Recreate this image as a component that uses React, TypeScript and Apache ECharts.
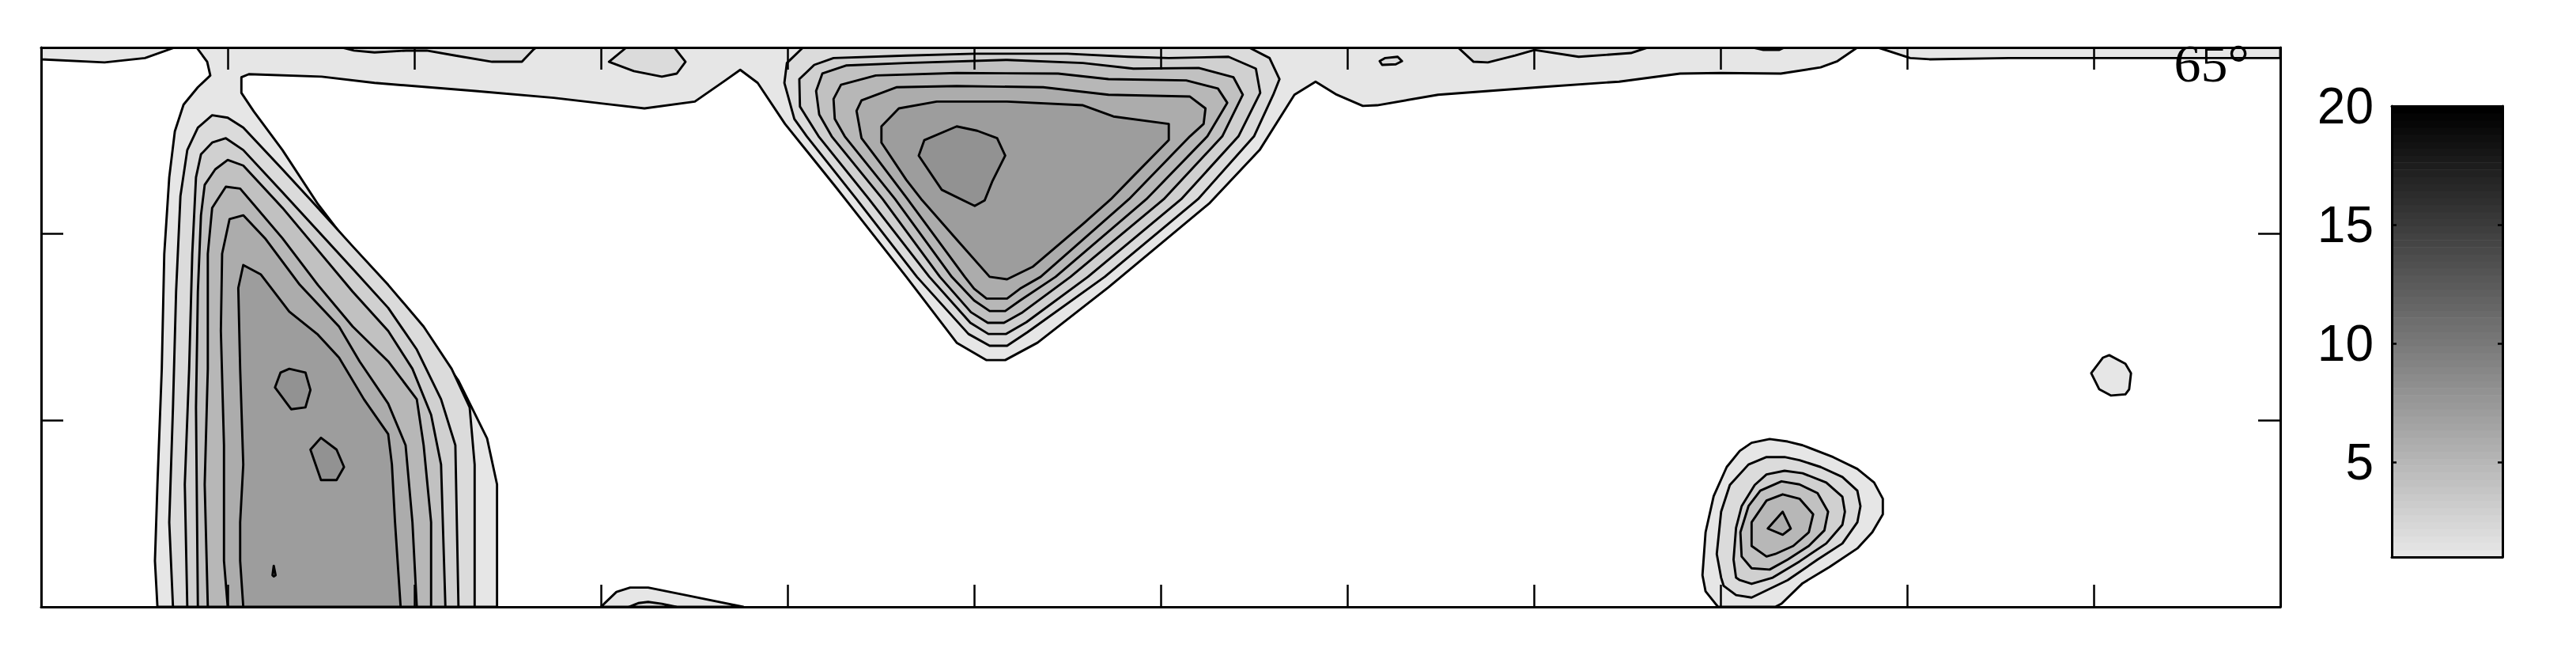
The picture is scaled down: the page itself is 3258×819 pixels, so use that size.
import React, { useEffect, useRef } from "react";
import * as echarts from "echarts";

// ---- axes / colour scale ----
const X_MIN = 0, X_MAX = 360, X_STEP = 30;
const Y_MIN = 0, Y_MAX = 90, Y_STEP = 30;
const CBAR_MIN = 1, CBAR_MAX = 20;
const CBAR_TICKS = [5, 10, 15, 20];
const CBAR_STEPS = 64;
const PANEL_LABEL = "65°";

// ---- contour polygons (x, y in axis units), level = contour value ----
// level 1: band along the top edge (three pieces), blobs attached to it
const stripWest = [[0, 90], [0, 88.1], [10.2, 87.6], [16.7, 88.3], [21.5, 90]];
const stripMain = [
  [25.0, 90], [292.0, 90], [288.8, 87.8], [286.1, 86.8], [279.7, 85.8], [270.0, 85.9], [263.5, 85.8],
  [253.7, 84.5], [240.8, 83.6], [224.6, 82.4], [214.8, 80.7], [212.5, 80.6], [208.3, 82.4], [204.9, 84.5],
  [201.5, 82.4], [195.9, 73.5], [187.8, 64.9], [171.6, 51.4], [160.2, 42.5], [155.0, 39.7], [152.0, 39.7],
  [147.2, 42.5], [139.1, 53.1], [127.8, 67.5], [119.6, 77.7], [115.2, 84.3], [112.4, 86.4], [110.0, 84.7],
  [105.1, 81.3], [97.0, 80.2], [89.2, 81.1], [82.4, 81.9], [69.8, 83.0], [53.6, 84.3], [45.1, 85.3],
  [33.4, 85.7], [32.2, 85.2], [32.2, 82.7], [34.2, 79.7], [38.8, 73.5], [44.5, 64.8], [53.0, 53.7],
  [61.5, 44.4], [67.1, 36.4], [71.7, 27.1], [73.3, 19.7], [73.3, 0], [18.7, 0], [18.3, 7.4], [18.7, 19.7],
  [19.4, 38.3], [19.8, 56.8], [20.6, 69.1], [21.5, 76.5], [22.9, 80.8], [25.2, 83.6], [27.2, 85.5], [26.7, 87.7],
];
const stripEast = [[295.3, 90], [300.5, 88.3], [303.6, 88.1], [316.3, 88.3], [330.3, 88.3], [343.9, 88.3], [360, 88.3], [360, 90]];
const bumpBottom1 = [[90, 0], [92.5, 2.4], [94.7, 3.1], [97.6, 3.1], [103.6, 1.9], [112.9, 0]];
const islandEast1 = [[329.6, 37.6], [331.5, 40.1], [332.5, 40.5], [335.1, 39.1], [336.0, 37.6], [335.7, 35.0], [335.1, 34.2], [332.8, 34.0], [330.9, 35.0]];
const eastBlob1 = [
  [269.6, 0], [267.6, 2.5], [267.1, 5.1], [267.6, 12.0], [268.9, 17.8], [271.0, 22.5], [273.1, 25.1], [275.0, 26.4],
  [277.9, 27.0], [280.8, 26.6], [283.2, 26.0], [288.1, 24.1], [292.0, 22.2], [294.7, 20.0], [296.1, 17.4], [296.1, 14.9],
  [294.4, 12.0], [292.0, 9.4], [287.5, 6.4], [283.2, 3.8], [279.8, 0.5], [278.8, 0],
];

// level 2
const strip2a = [[48.4, 90], [50.3, 89.5], [53.6, 89.2], [58.7, 89.5], [62.0, 89.5], [66.6, 88.7], [72.5, 87.7], [77.3, 87.7], [79.2, 89.7], [79.6, 90]];
const strip2b = [[94.1, 90], [91.3, 87.7], [95.3, 86.2], [99.8, 85.3], [102.2, 85.8], [103.6, 87.7], [101.8, 90]];
const strip2c = [[215.2, 87.8], [216.1, 88.3], [218.1, 88.5], [218.8, 87.8], [217.8, 87.3], [215.6, 87.2]];
const strip2d = [[227.8, 90], [230.3, 87.7], [232.6, 87.6], [237.0, 88.7], [240.1, 89.6], [247.2, 88.5], [255.6, 89.1], [258.3, 90]];
const strip2e = [[275.2, 90], [276.9, 89.6], [279.4, 89.6], [280.3, 90]];
const bumpBottom2 = [[94.5, 0], [96.0, 0.6], [97.6, 0.8], [99.8, 0.5], [102.1, 0]];
const westBlob2 = [
  [21.2, 0], [20.6, 13.6], [21.2, 32.1], [21.7, 50.7], [22.4, 66.1], [23.5, 73.5], [25.2, 77.1], [27.5, 79.1], [30.0, 78.7],
  [32.5, 77.1], [38.8, 70.4], [44.5, 64.2], [50.1, 58.0], [55.8, 51.8], [61.5, 45.1], [66.0, 38.3], [68.9, 32.1], [69.7, 22.9], [69.7, 0],
];
const midBlob2 = [
  [122.5, 90], [119.9, 87.5], [119.5, 84.3], [121.1, 78.5], [123.1, 75.7], [131.1, 65.6], [140.8, 53.1], [149.1, 43.9],
  [152.5, 42.0], [155.3, 42.0], [158.6, 44.2], [171.0, 53.1], [186.0, 65.6], [195.0, 75.7], [198.1, 82.4], [199.1, 84.9],
  [197.5, 88.3], [194.2, 90],
];
const eastBlob2 = [
  [270.1, 4.7], [269.4, 8.5], [270.1, 15.3], [271.5, 19.6], [274.5, 22.9], [277.4, 24.1], [280.3, 24.1], [282.7, 23.6],
  [286.1, 22.5], [289.6, 20.9], [292.0, 18.7], [292.5, 16.2], [292.0, 13.6], [289.6, 10.2], [285.6, 7.6], [280.8, 4.3],
  [275.0, 1.5], [272.5, 1.9], [270.5, 3.4],
];

// level 3
const westBlob3 = [
  [23.5, 0], [23.1, 19.7], [23.8, 38.3], [24.3, 56.8], [24.9, 69.1], [25.7, 72.8], [27.5, 74.7], [29.7, 75.4], [32.5, 73.5],
  [38.8, 66.7], [44.5, 60.5], [50.1, 54.4], [55.8, 48.1], [60.4, 41.4], [64.3, 33.4], [66.6, 26.0], [67.1, 0],
];
const midBlob3 = [
  [121.9, 84.9], [124.3, 87.2], [127.4, 88.3], [139.1, 88.7], [150.1, 89.0], [165.0, 89.0], [174.8, 88.5], [181.3, 88.3],
  [190.9, 88.5], [195.3, 86.6], [196.0, 82.7], [192.5, 75.7], [183.3, 65.6], [168.3, 53.1], [158.4, 45.8], [155.1, 43.9],
  [152.3, 43.9], [149.4, 45.7], [142.8, 53.1], [133.1, 65.6], [125.0, 75.7], [122.0, 80.5],
];
const eastBlob3 = [
  [272.5, 4.7], [272.1, 7.6], [272.5, 12.7], [273.4, 16.2], [275.5, 19.6], [277.4, 21.3], [280.3, 21.9], [283.2, 21.5],
  [287.0, 20.0], [289.6, 17.7], [290.0, 15.3], [289.6, 13.2], [287.0, 10.2], [282.7, 7.3], [278.4, 4.7], [275.0, 3.7], [273.1, 4.3],
];

// level 4
const westBlob4 = [
  [25.2, 0], [24.9, 32.1], [25.2, 50.7], [25.7, 63.0], [26.3, 67.9], [28.0, 70.4], [30.0, 71.9], [32.5, 71.0], [38.8, 64.2],
  [44.5, 57.4], [50.1, 50.7], [55.8, 44.4], [59.7, 38.3], [62.7, 30.9], [64.3, 22.9], [65.0, 0],
];
const midBlob4 = [
  [124.6, 83.0], [125.6, 85.8], [129.4, 87.1], [139.1, 87.5], [155.3, 88.0], [167.5, 87.5], [175.6, 86.6], [186.1, 86.7],
  [191.7, 85.2], [193.2, 82.4], [189.9, 75.7], [180.5, 65.6], [165.5, 53.1], [157.8, 47.4], [154.8, 45.7], [152.2, 45.7],
  [149.5, 47.4], [144.5, 53.1], [135.3, 65.6], [127.1, 75.7], [125.1, 79.2],
];
const eastBlob4 = [
  [275.0, 6.2], [273.4, 8.1], [273.2, 12.0], [274.5, 16.2], [276.4, 18.7], [279.8, 20.2], [282.7, 19.7], [285.6, 18.3],
  [287.3, 15.3], [286.7, 12.3], [284.2, 9.8], [280.8, 7.6], [277.9, 6.0],
];

// level 5
const westBlob5 = [
  [26.8, 0], [26.3, 19.7], [26.8, 38.3], [26.8, 56.8], [27.5, 64.2], [29.7, 67.6], [32.0, 67.3], [38.8, 59.3], [44.5, 51.8],
  [50.1, 45.1], [55.8, 39.5], [60.4, 33.4], [61.5, 26.0], [62.7, 13.6], [62.7, 0],
];
const midBlob5 = [
  [127.4, 81.7], [128.6, 84.0], [134.2, 85.5], [147.2, 85.9], [163.5, 85.8], [171.6, 84.9], [184.1, 84.7], [189.2, 83.4],
  [190.7, 81.1], [187.5, 75.7], [177.7, 65.6], [163.1, 53.1], [157.4, 49.3], [155.0, 47.6], [152.5, 47.6], [150.0, 49.3],
  [146.4, 53.1], [137.3, 65.6], [129.2, 75.7], [127.6, 78.5],
];
const eastBlob5 = [[277.4, 8.1], [275.0, 9.8], [275.0, 13.6], [277.4, 17.1], [280.0, 18.1], [282.7, 17.4], [284.9, 14.9], [284.2, 12.0], [281.7, 9.8], [278.8, 8.5]];

// level 6
const westBlob6 = [
  [30.0, 0], [29.4, 7.4], [29.4, 26.0], [28.9, 44.4], [29.1, 56.8], [30.3, 62.4], [32.5, 63.0], [36.0, 59.3], [41.6, 51.8],
  [47.9, 45.1], [51.2, 39.5], [55.8, 32.7], [58.6, 26.0], [59.7, 13.6], [60.4, 0],
];
const midBlob6 = [
  [131.1, 79.8], [131.9, 81.5], [137.5, 83.6], [147.2, 83.8], [161.1, 83.6], [171.6, 82.4], [184.7, 82.1], [187.2, 80.2],
  [186.9, 77.7], [184.7, 75.7], [174.9, 65.6], [160.7, 53.1], [157.4, 51.2], [155.3, 49.6], [152.0, 49.6], [150.0, 51.2],
  [148.5, 53.1], [139.3, 65.6], [131.9, 75.4],
];
const eastBlob6 = [[277.6, 12.6], [280.0, 15.3], [281.3, 12.6], [280.0, 11.6]];

// level 7
const westBlob7 = [
  [32.5, 0], [32.0, 7.4], [32.0, 13.6], [32.5, 22.9], [32.0, 38.3], [31.7, 51.3], [32.5, 55.0], [35.3, 53.5], [39.9, 47.5],
  [44.5, 43.8], [47.9, 40.1], [51.9, 33.4], [55.8, 27.8], [56.4, 22.9], [56.9, 13.6], [57.8, 0],
];
const midBlob7 = [
  [135.1, 77.3], [137.9, 80.2], [144.0, 81.3], [155.3, 81.3], [167.5, 80.7], [172.4, 78.9], [181.3, 77.7], [181.3, 75.1],
  [175.6, 69.3], [172.0, 65.6], [167.5, 61.6], [159.4, 54.7], [155.3, 52.7], [152.5, 53.1], [147.2, 59.1], [141.5, 65.6],
  [139.1, 68.7], [135.1, 74.7],
];

// level 8
const westPeakA = [[38.5, 37.7], [39.9, 38.3], [42.5, 37.7], [43.3, 34.9], [42.5, 32.1], [40.2, 31.8], [37.6, 35.3]];
const westPeakB = [[43.3, 25.3], [45.0, 27.2], [47.5, 25.3], [48.7, 22.5], [47.5, 20.4], [45.0, 20.4]];
const westPeakC = [[37.2, 5.1], [37.4, 6.6], [37.7, 5.1], [37.4, 4.9]];
const midPeak = [[147.2, 77.3], [142.0, 75.1], [141.1, 72.6], [144.8, 67.1], [150.1, 64.5], [151.7, 65.4], [152.9, 68.4], [155.0, 72.6], [153.7, 75.4], [150.5, 76.6]];

const CONTOURS = [
  { level: 1, pts: stripWest }, { level: 1, pts: stripMain }, { level: 1, pts: stripEast },
  { level: 1, pts: bumpBottom1 }, { level: 1, pts: islandEast1 }, { level: 1, pts: eastBlob1 },
  { level: 2, pts: strip2a }, { level: 2, pts: strip2b }, { level: 2, pts: strip2c }, { level: 2, pts: strip2d },
  { level: 2, pts: strip2e }, { level: 2, pts: bumpBottom2 }, { level: 2, pts: westBlob2 }, { level: 2, pts: midBlob2 },
  { level: 2, pts: eastBlob2 },
  { level: 3, pts: westBlob3 }, { level: 3, pts: midBlob3 }, { level: 3, pts: eastBlob3 },
  { level: 4, pts: westBlob4 }, { level: 4, pts: midBlob4 }, { level: 4, pts: eastBlob4 },
  { level: 5, pts: westBlob5 }, { level: 5, pts: midBlob5 }, { level: 5, pts: eastBlob5 },
  { level: 6, pts: westBlob6 }, { level: 6, pts: midBlob6 }, { level: 6, pts: eastBlob6 },
  { level: 7, pts: westBlob7 }, { level: 7, pts: midBlob7 },
  { level: 8, pts: westPeakA }, { level: 8, pts: westPeakB }, { level: 8, pts: westPeakC }, { level: 8, pts: midPeak },
];

// colormap: light grey (230) at CBAR_MIN to black at CBAR_MAX, 64 steps
function stepGray(i: number) {
  const g = Math.round(230 * (1 - i / (CBAR_STEPS - 1)));
  return `rgb(${g},${g},${g})`;
}
function levelColor(v: number) {
  let idx = Math.floor(((v - CBAR_MIN) / (CBAR_MAX - CBAR_MIN)) * CBAR_STEPS);
  idx = Math.max(0, Math.min(CBAR_STEPS - 1, idx));
  return stepGray(idx);
}

const AXIS_LINE = { show: true, onZero: false, lineStyle: { color: "#000", width: 3 } };
const MAIN_TICK = { show: true, inside: true, length: 28, lineStyle: { color: "#000", width: 2.5 } };

export default function App() {
  const ref = useRef<HTMLDivElement>(null);
  useEffect(() => {
    if (!ref.current) return;
    const chart = echarts.init(ref.current, null, { renderer: "svg" });
    const mainX = (position: string) => ({
      gridIndex: 0, type: "value", min: X_MIN, max: X_MAX, interval: X_STEP, position, z: 10,
      axisLine: AXIS_LINE, axisTick: MAIN_TICK, axisLabel: { show: false }, splitLine: { show: false },
    });
    const mainY = (position: string) => ({
      gridIndex: 0, type: "value", min: Y_MIN, max: Y_MAX, interval: Y_STEP, position, z: 10,
      axisLine: AXIS_LINE, axisTick: MAIN_TICK, axisLabel: { show: false }, splitLine: { show: false },
    });
    const cbX = (position: string) => ({
      gridIndex: 1, type: "value", min: 0, max: 1, position, z: 10,
      axisLine: AXIS_LINE, axisTick: { show: false }, axisLabel: { show: false }, splitLine: { show: false },
    });
    const cbY = (position: string, labels: boolean) => ({
      gridIndex: 1, type: "value", min: CBAR_MIN, max: CBAR_MAX, position, z: 10,
      axisLine: AXIS_LINE,
      axisTick: { show: true, inside: true, length: 6, customValues: CBAR_TICKS, lineStyle: { color: "#000", width: 2.5 } },
      axisLabel: labels
        ? { show: true, customValues: CBAR_TICKS, color: "#000", fontSize: 64, fontFamily: "'Liberation Sans', Arial, sans-serif", margin: 23 }
        : { show: false },
      splitLine: { show: false },
    });

    chart.setOption({
      animation: false,
      backgroundColor: "#fff",
      grid: [
        { left: 52, top: 60, width: 2832, height: 707 },
        { left: 3025, top: 134, width: 140, height: 570 },
      ],
      xAxis: [mainX("bottom"), mainX("top"), cbX("bottom"), cbX("top")],
      yAxis: [mainY("left"), mainY("right"), cbY("left", true), cbY("right", false)],
      series: [
        {
          type: "custom",
          xAxisIndex: 0,
          yAxisIndex: 0,
          clip: true,
          z: 2,
          data: CONTOURS.map((c) => [c.pts[0][0], c.pts[0][1]]),
          renderItem: (params: any, api: any) => {
            const c = CONTOURS[params.dataIndex];
            const points = c.pts.map((p) => api.coord(p));
            return {
              type: "polygon",
              shape: { points },
              style: { fill: levelColor(c.level), stroke: "#000", lineWidth: 2.9, lineJoin: "round" },
            };
          },
        },
        {
          type: "custom",
          xAxisIndex: 2,
          yAxisIndex: 2,
          z: 2,
          data: [[0, CBAR_MIN]],
          renderItem: (_params: any, api: any) => {
            const children: any[] = [];
            for (let i = 0; i < CBAR_STEPS; i++) {
              const v0 = CBAR_MIN + ((CBAR_MAX - CBAR_MIN) * i) / CBAR_STEPS;
              const v1 = CBAR_MIN + ((CBAR_MAX - CBAR_MIN) * (i + 1)) / CBAR_STEPS;
              const p0 = api.coord([0, v0]);
              const p1 = api.coord([1, v1]);
              children.push({
                type: "rect",
                shape: { x: p0[0], y: p1[1], width: p1[0] - p0[0], height: p0[1] - p1[1] + 0.6 },
                style: { fill: stepGray(i) },
              });
            }
            return { type: "group", children };
          },
        },
      ],
      graphic: [
        {
          type: "text",
          z: 100,
          style: {
            text: PANEL_LABEL,
            x: 2797,
            y: 80,
            textAlign: "center",
            textVerticalAlign: "middle",
            font: "normal 68px 'Liberation Serif', 'Times New Roman', serif",
            fill: "#000",
          },
        },
      ],
    });
    return () => chart.dispose();
  }, []);
  return <div ref={ref} style={{ position: "absolute", left: 0, top: 0, width: 3258, height: 819 }} />;
}
